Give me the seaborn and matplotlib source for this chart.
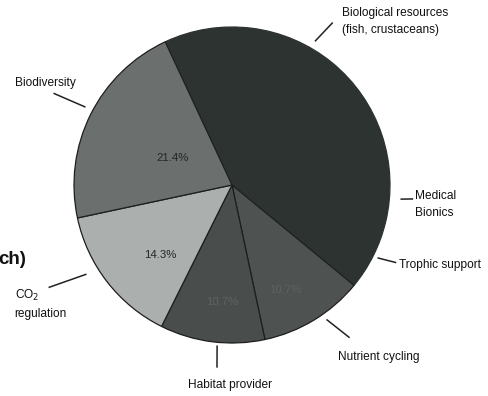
import numpy as np
import matplotlib
matplotlib.use("Agg")
import matplotlib.pyplot as plt
import seaborn as sns

sns.set_theme(style="white")
plt.rcParams['font.family'] = ['Liberation Sans', 'DejaVu Sans']

# ---- data ----
categories = ["Biological resources\n(fish, crustaceans)", "Medical\nBionics", "Trophic support",
              "Nutrient cycling", "Habitat provider", "CO$_2$\nregulation", "Biodiversity"]
values = [35.7, 3.6, 3.6, 10.7, 10.7, 14.3, 21.4]
pct_labels = ["", "", "", "10.7%", "10.7%", "14.3%", "21.4%"]

colors = ["#2d3331", "#2d3331", "#2d3331", "#4e5351", "#494e4c", "#abb0ae", "#6b6f6d"]

W, H = 489, 396
fig = plt.figure(figsize=(W / 100, H / 100), dpi=100)
cx, cy, R = 232, 185, 158
ax = fig.add_axes([(cx - R) / W, (H - cy - R) / H, 2 * R / W, 2 * R / H])

wedges, _ = ax.pie(values, colors=colors, startangle=115, counterclock=False,
                   wedgeprops=dict(edgecolor="#1e1e1e", linewidth=0.9))
# hide seams between the three dark wedges
for w in wedges[:3]:
    w.set_edgecolor(w.get_facecolor())
ax.set_xlim(-1, 1)
ax.set_ylim(-1, 1)
ax.set_aspect("equal")
ax.axis("off")

# ---- label layout: leader (angle_in, r_in, angle_out, r_out), text offset (px), alignment ----
leaders = [(60.0, 1.05, 58.2, 1.21), (-4.8, 1.07, -4.4, 1.15), (-26.6, 1.03, -25.3, 1.15),
           (-54.9, 1.04, -52.4, 1.22), (-95.3, 1.02, -94.7, 1.16), (211.5, 1.08, 209.2, 1.33),
           (152.0, 1.05, 152.8, 1.27)]
text_off = [(9, 1), (2, -6), (3, -2), (-12, -19), (13, -17), (-34, -16), (-8, 10)]
text_ha = ["left", "left", "left", "left", "center", "left", "center"]
pct_pos = [None, None, None, (0.744, 296.8), (0.743, 265.1), (0.635, 224.2), (0.415, 155.8)]

def polar(a, r):
    t = np.deg2rad(a)
    return r * np.cos(t), r * np.sin(t)

for i, w in enumerate(wedges):
    a0, r0, a1, r1 = leaders[i]
    x0, y0 = polar(a0, r0)
    x1, y1 = polar(a1, r1)
    ax.plot([x0, x1], [y0, y1], color="#222222", lw=1.1, clip_on=False,
            solid_capstyle="butt")
    dx, dy = text_off[i]
    ax.text(x1 + dx / R, y1 + dy / R, categories[i], ha=text_ha[i], va="center",
            multialignment="left", fontsize=8.6, color="#111111", linespacing=1.55)
    if pct_labels[i]:
        r, a = pct_pos[i]
        px, py = polar(a, r)
        ax.text(px, py, pct_labels[i], ha="center", va="center", fontsize=8.2,
                color="#262626" if i >= 5 else "#5e6260")

# fragment of neighbouring text in the scan
fig.text(-0.003, 1 - 259 / H, "ch)", fontsize=13.5, fontweight="bold", color="#111111",
         ha="left", va="center")

fig.savefig("out.png", dpi=100, facecolor="white")
